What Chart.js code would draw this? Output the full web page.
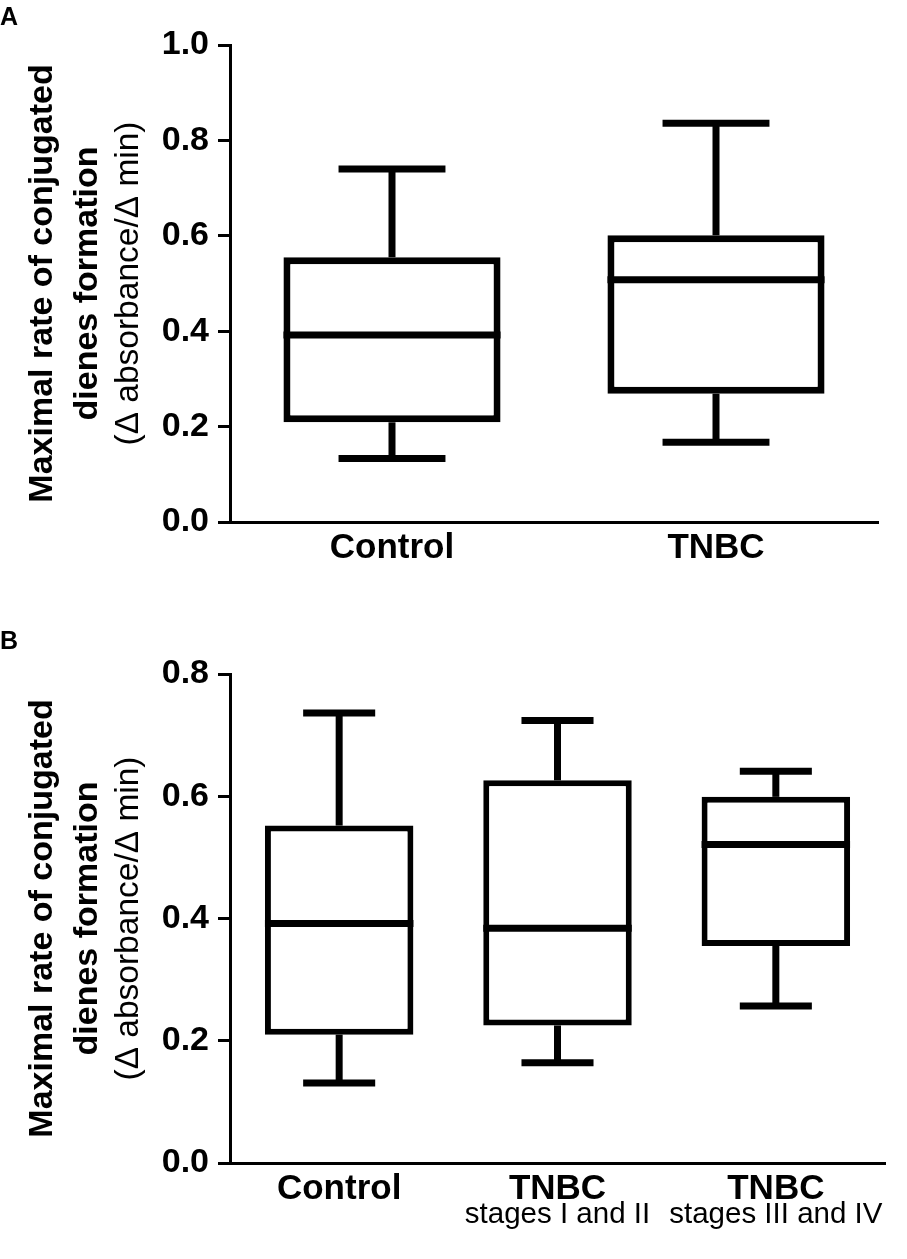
<!DOCTYPE html>
<html>
<head>
<meta charset="utf-8">
<script src="https://cdn.jsdelivr.net/npm/chart.js@4.4.1/dist/chart.umd.min.js"></script>
<style>
  html, body { margin: 0; padding: 0; background: #fff; }
  #wrapA { position: absolute; left: 0; top: 0; width: 907px; height: 600px; }
  #wrapB { position: absolute; left: 0; top: 600px; width: 907px; height: 659px; }
</style>
</head>
<body>
<div id="wrapA"><canvas id="chartA"></canvas></div>
<div id="wrapB"><canvas id="chartB"></canvas></div>
<script>
//-----------------------------------------
// DATA
//-----------------------------------------
const yTitleLines = ["Maximal rate of conjugated", "dienes formation", "(\u0394 absorbance/\u0394 min)"];

// Panel A
const groupsA = ["Control", "TNBC"];
const minA = [0.133, 0.167];
const q1A  = [0.209, 0.269];
const medA = [0.392, 0.508];
const q3A  = [0.555, 0.601];
const maxA = [0.740, 0.836];
const yMaxA = 1.0;

// Panel B
const groupsB = ["Control", "TNBC", "TNBC"];
const subLabelsB = ["", "stages I and II", "stages III and IV"];
const minB = [0.131, 0.164, 0.257];
const q1B  = [0.210, 0.225, 0.355];
const medB = [0.392, 0.384, 0.521];
const q3B  = [0.552, 0.626, 0.599];
const maxB = [0.736, 0.724, 0.641];
const yMaxB = 0.8;

const yStep = 0.2;

const FONT = "'Liberation Sans', Arial, sans-serif";


//-----------------------------------------
// PLUGIN: median, whiskers, caps, y title, sub labels, panel letter
//-----------------------------------------
const boxExtras = {
  id: "boxExtras",
  afterDatasetsDraw(chart, args, o) {
    const ctx = chart.ctx;
    const xs = chart.scales.x, ys = chart.scales.y;
    const meta = chart.getDatasetMeta(0);
    const capHalf = (xs.width / o.med.length) * o.capRatio / 2;

    ctx.save();
    ctx.strokeStyle = "#000";
    ctx.lineWidth = o.lineWidth;
    ctx.lineCap = "butt";

    const seg = (x1, y1, x2, y2) => {
      ctx.beginPath();
      ctx.moveTo(x1, y1);
      ctx.lineTo(x2, y2);
      ctx.stroke();
    };

    o.med.forEach((m, i) => {
      const cx = xs.getPixelForValue(i);
      const bar = meta.data[i];
      const half = bar.width / 2;
      const yMed = ys.getPixelForValue(m);
      const yQ1 = ys.getPixelForValue(o.q1[i]);
      const yQ3 = ys.getPixelForValue(o.q3[i]);
      const yMin = ys.getPixelForValue(o.min[i]);
      const yMax = ys.getPixelForValue(o.max[i]);

      // median
      seg(bar.x - half, yMed, bar.x + half, yMed);
      // whiskers
      seg(cx, yQ3, cx, yMax);
      seg(cx, yQ1, cx, yMin);
      // caps
      seg(cx - capHalf, yMax, cx + capHalf, yMax);
      seg(cx - capHalf, yMin, cx + capHalf, yMin);
    });
    ctx.restore();
  },
  afterDraw(chart, args, o) {
    const ctx = chart.ctx;
    const area = chart.chartArea;
    const cy = (area.top + area.bottom) / 2;

    // y-axis title, three lines
    ctx.save();
    ctx.fillStyle = "#000";
    ctx.textAlign = "center";
    ctx.textBaseline = "middle";
    yTitleLines.forEach((t, k) => {
      ctx.save();
      ctx.translate(o.titleX[k], cy);
      ctx.rotate(-Math.PI / 2);
      ctx.font = k < 2 ? "bold " + o.titleSize + "px " + FONT : o.titleSize3 + "px " + FONT;
      ctx.fillText(t, 0, 0);
      ctx.restore();
    });

    // second line of the category labels
    if (o.subLabels) {
      const xs = chart.scales.x;
      ctx.font = o.subSize + "px " + FONT;
      ctx.textBaseline = "alphabetic";
      o.subLabels.forEach((s, i) => {
        if (s) ctx.fillText(s, xs.getPixelForValue(i), area.bottom + o.subOffset);
      });
    }

    // panel letter
    ctx.font = "bold 25px " + FONT;
    ctx.textAlign = "left";
    ctx.textBaseline = "alphabetic";
    ctx.fillText(o.letter, 0, o.letterY);
    ctx.restore();
  }
};


//-----------------------------------------
// BUILD ONE PANEL
//-----------------------------------------
function buildPanel(canvasId, p) {
  return new Chart(document.getElementById(canvasId), {
    type: "bar",
    data: {
      labels: p.labels,
      datasets: [{
        data: p.q1.map((v, i) => [v, p.q3[i]]),
        backgroundColor: "#fff",
        borderColor: "#000",
        borderWidth: p.boxWidth,
        borderSkipped: false,
        categoryPercentage: 1,
        barPercentage: p.barPct
      }]
    },
    options: {
      responsive: true,
      maintainAspectRatio: false,
      animation: false,
      events: [],
      layout: { padding: { top: p.top, right: p.right, bottom: 0, left: 0 } },
      plugins: {
        legend: { display: false },
        tooltip: { enabled: false },
        boxExtras: {
          min: p.min, q1: p.q1, med: p.med, q3: p.q3, max: p.max,
          lineWidth: 7,
          capRatio: 0.33,
          titleX: [43, 88, 129],
          titleSize: 34,
          titleSize3: 33.5,
          subLabels: p.subLabels,
          subSize: 29.5,
          subOffset: 60,
          letter: p.letter,
          letterY: p.letterY
        }
      },
      scales: {
        x: {
          afterFit: s => { s.height = p.xHeight; },
          grid: { display: false, drawTicks: false },
          border: { display: true, color: "#000", width: 3 },
          ticks: {
            color: "#000",
            padding: 5,
            maxRotation: 0,
            autoSkip: false,
            font: { family: FONT, size: 35, weight: "bold" }
          }
        },
        y: {
          min: 0,
          max: p.yMax,
          afterFit: s => { s.width = 230; },
          grid: {
            drawOnChartArea: false,
            drawTicks: true,
            tickLength: 12,
            lineWidth: 3,
            color: "#000"
          },
          border: { display: true, color: "#000", width: 3 },
          ticks: {
            stepSize: yStep,
            color: "#000",
            padding: 9,
            font: { family: FONT, size: 34, weight: "bold" },
            callback: v => v.toFixed(1)
          }
        }
      }
    },
    plugins: [boxExtras]
  });
}


//------------------------------------------------------
// FIRST RUN
//------------------------------------------------------
buildPanel("chartA", {
  labels: groupsA, min: minA, q1: q1A, med: medA, q3: q3A, max: maxA,
  yMax: yMaxA, top: 45, right: 29, xHeight: 78,
  barPct: 0.67, boxWidth: 7, subLabels: null,
  letter: "A", letterY: 25
});

buildPanel("chartB", {
  labels: groupsB, min: minB, q1: q1B, med: medB, q3: q3B, max: maxB,
  yMax: yMaxB, top: 74, right: 22, xHeight: 96,
  barPct: 0.68, boxWidth: 6, subLabels: subLabelsB,
  letter: "B", letterY: 49
});
</script>
</body>
</html>
